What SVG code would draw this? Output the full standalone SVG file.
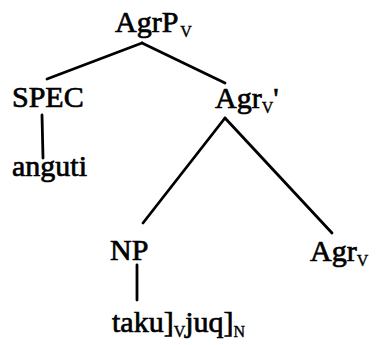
<svg xmlns="http://www.w3.org/2000/svg" width="377" height="345" viewBox="0 0 377 345">
<style>
text{font-family:"Liberation Serif","Times New Roman",serif;font-size:30px;fill:#000;stroke:#000;stroke-width:0.7}
.sub{font-size:16px;stroke-width:0.4}
line{stroke:#000;stroke-width:2.8;stroke-linecap:round}
</style>
<rect width="377" height="345" fill="#fff"/>
<g id="connectors">
<line x1="142" y1="43" x2="47" y2="79"/>
<line x1="142" y1="43" x2="225" y2="83"/>
<line x1="42" y1="115" x2="43" y2="158"/>
<line x1="225" y1="118" x2="143" y2="223"/>
<line x1="225" y1="118" x2="332" y2="233"/>
<line x1="137" y1="265" x2="137" y2="300"/>
</g>
<g id="agrp"><text x="115" y="32">AgrP<tspan class="sub" dx="2" dy="5">V</tspan></text></g>
<g id="spec"><text x="12" y="107">SPEC</text></g>
<g id="anguti"><text x="12" y="176">anguti</text></g>
<g id="agrbar"><text x="215" y="108">Agr<tspan class="sub" dy="5">V</tspan><tspan dy="-5">'</tspan></text></g>
<g id="np"><text x="110" y="260">NP</text></g>
<g id="agr"><text x="310" y="261">Agr<tspan class="sub" dy="5">V</tspan></text></g>
<g id="taku"><text x="112" y="332">taku]<tspan class="sub" dy="5">V</tspan><tspan dy="-5">juq]</tspan><tspan class="sub" dy="5">N</tspan></text></g>
</svg>
